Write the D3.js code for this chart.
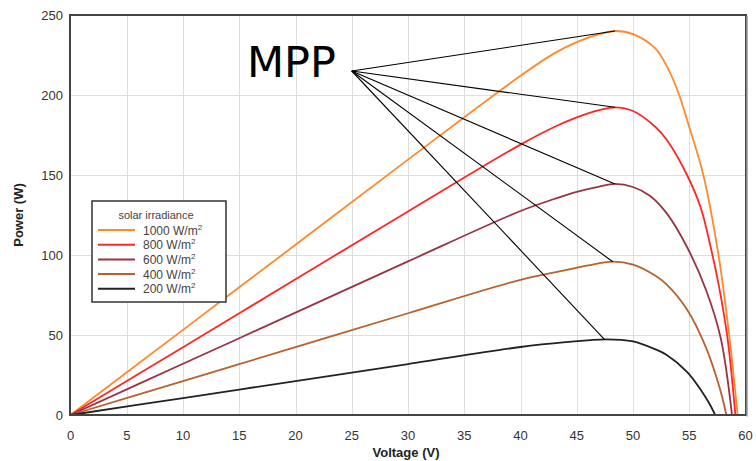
<!DOCTYPE html>
<meta charset="utf-8">
<style>
body { margin: 0; background: #fff; }
text { font-family: "Liberation Sans", Arial, sans-serif; }
</style>
<body>
<script src="https://d3js.org/d3.v7.min.js"></script>
<script>

var width = 756,
    height = 461;

// irradiance levels (W/m2) and their curve colours
var levels = [1000, 800, 600, 400, 200];
var colors = ["#ff8a2a", "#ff2626", "#993344", "#b8602e", "#222222"];

// P-V curves: voltage (V) and power (W)
var volts1000 = [0, 10, 20, 30, 40, 43, 45, 47, 48.4, 50, 52, 53, 54, 55, 56.25, 57.6, 58.55, 59.3];
var power1000 = [0, 53.2, 106.4, 159.6, 212, 226, 233, 238, 240, 238, 229, 218, 202, 180, 150, 100, 50, 0];

var volts800 = [0, 10, 20, 30, 40, 43, 45, 47, 48.4, 50, 52, 53, 54.8, 56, 56.9, 57.6, 58.4, 59.1];
var power800 = [0, 42.4, 84.8, 127.2, 169, 180, 186, 190.5, 192.3, 190, 180, 172, 150, 130, 105, 82, 48, 0];

var volts600 = [0, 10, 20, 30, 40, 43, 45, 47, 48.4, 50, 51.5, 53, 54.8, 56.5, 57.8, 58.8];
var power600 = [0, 32, 64, 96, 127.5, 135, 139.5, 142.8, 144.4, 142.5, 137, 126, 105, 78, 48, 0];

var volts400 = [0, 10, 20, 30, 40, 44, 46, 48.2, 50, 52, 53, 54.8, 56.5, 57.7, 58.3];
var power400 = [0, 21.2, 42.4, 63.6, 84.5, 90.5, 93.5, 95.8, 94, 87, 81.5, 66, 42, 17, 0];

var volts200 = [0, 10, 20, 30, 40, 44, 47.6, 50, 52, 53, 54.8, 56, 56.8, 57.3];
var power200 = [0, 10.6, 21.2, 31.8, 42.5, 45.5, 47.3, 46, 41, 37.5, 27, 16, 7, 0];

// maximum power points and the common label anchor
var mppVolts = [48.4, 48.4, 48.4, 48.2, 47.5];
var mppPower = [240, 192.3, 144.4, 95.8, 47];
var mppAnchor = [25, 215];

var xTicks = d3.range(0, 61, 5);
var yTicks = d3.range(0, 251, 50);

var curves = [
  [volts1000, power1000],
  [volts800, power800],
  [volts600, power600],
  [volts400, power400],
  [volts200, power200]
];

var svg = d3.select("body").append("svg")
    .attr("width", width)
    .attr("height", height);

var x = d3.scaleLinear().domain([0, 60]).range([70.5, 745.5]);
var y = d3.scaleLinear().domain([0, 250]).range([415, 15]);

// grid
svg.append("g")
    .attr("stroke", "#dedede")
    .attr("stroke-width", 1)
  .selectAll("line.v")
  .data(xTicks.slice(1, -1))
  .join("line")
    .attr("x1", d => Math.round(x(d)) + 0.5)
    .attr("x2", d => Math.round(x(d)) + 0.5)
    .attr("y1", y(250))
    .attr("y2", y(0));

svg.append("g")
    .attr("stroke", "#dedede")
    .attr("stroke-width", 1)
  .selectAll("line.h")
  .data(yTicks.slice(1, -1))
  .join("line")
    .attr("x1", x(0))
    .attr("x2", x(60))
    .attr("y1", d => Math.round(y(d)) + 0.5)
    .attr("y2", d => Math.round(y(d)) + 0.5);

// tick labels
svg.append("g")
  .selectAll("text")
  .data(xTicks)
  .join("text")
    .attr("x", d => x(d))
    .attr("y", 440)
    .attr("text-anchor", "middle")
    .attr("font-size", 13)
    .attr("fill", "#333")
    .text(d => d);

svg.append("g")
  .selectAll("text")
  .data(yTicks)
  .join("text")
    .attr("x", 63)
    .attr("y", d => y(d) + 5)
    .attr("text-anchor", "end")
    .attr("font-size", 13)
    .attr("fill", "#333")
    .text(d => d);

svg.append("text")
    .attr("x", 406)
    .attr("y", 457)
    .attr("text-anchor", "middle")
    .attr("font-size", 13)
    .attr("font-weight", "bold")
    .attr("fill", "#222")
    .text("Voltage (V)");

svg.append("text")
    .attr("transform", "translate(23,215) rotate(-90)")
    .attr("text-anchor", "middle")
    .attr("font-size", 13)
    .attr("font-weight", "bold")
    .attr("fill", "#222")
    .text("Power (W)");

// curves
var line = d3.line()
    .x(d => x(d[0]))
    .y(d => y(d[1]))
    .curve(d3.curveCatmullRom.alpha(0.5));

svg.append("g")
  .selectAll("path")
  .data(curves)
  .join("path")
    .attr("fill", "none")
    .attr("stroke", (d, i) => colors[i])
    .attr("stroke-width", 1.8)
    .attr("d", d => line(d[0].map((v, i) => [v, d[1][i]])));

// MPP pointer lines
svg.append("g")
    .attr("stroke", "#000")
    .attr("stroke-width", 1.1)
  .selectAll("line")
  .data(mppVolts)
  .join("line")
    .attr("x1", x(mppAnchor[0]))
    .attr("y1", y(mppAnchor[1]))
    .attr("x2", d => x(d))
    .attr("y2", (d, i) => y(mppPower[i]));

svg.append("text")
    .attr("x", 247)
    .attr("y", 77)
    .attr("font-size", 43)
    .style("font-family", "'DejaVu Sans', sans-serif")
    .attr("fill", "#000")
    .text("MPP");

// frame
svg.append("rect")
    .attr("x", x(0) - 0.5)
    .attr("y", y(250))
    .attr("width", x(60) - x(0) + 1)
    .attr("height", y(0) - y(250))
    .attr("fill", "none")
    .attr("stroke", "#444")
    .attr("stroke-width", 2);

svg.append("line")
    .attr("x1", x(60) + 1.5).attr("x2", x(60) + 1.5)
    .attr("y1", y(250) + 1).attr("y2", y(0) + 1.5)
    .attr("stroke", "#999").attr("stroke-width", 1.5);

// legend
var legend = svg.append("g").attr("transform", "translate(92,201)");

legend.append("rect")
    .attr("width", 134)
    .attr("height", 101)
    .attr("fill", "#fff")
    .attr("stroke", "#333")
    .attr("stroke-width", 1.5);

legend.append("text")
    .attr("x", 64)
    .attr("y", 18)
    .attr("text-anchor", "middle")
    .attr("font-size", 11)
    .attr("fill", "#444")
    .text("solar irradiance");

var item = legend.selectAll("g.item")
  .data(levels)
  .join("g")
    .attr("transform", (d, i) => "translate(0," + (29 + i * 14.7) + ")");

item.append("line")
    .attr("x1", 6)
    .attr("x2", 43)
    .attr("stroke", (d, i) => colors[i])
    .attr("stroke-width", 2);

var label = item.append("text")
    .attr("x", 51)
    .attr("y", 4.5)
    .attr("font-size", 12)
    .attr("fill", "#444");

label.append("tspan").text(d => d + " W/m");
label.append("tspan")
    .attr("dy", -5)
    .attr("font-size", 8)
    .text("2");

</script>
